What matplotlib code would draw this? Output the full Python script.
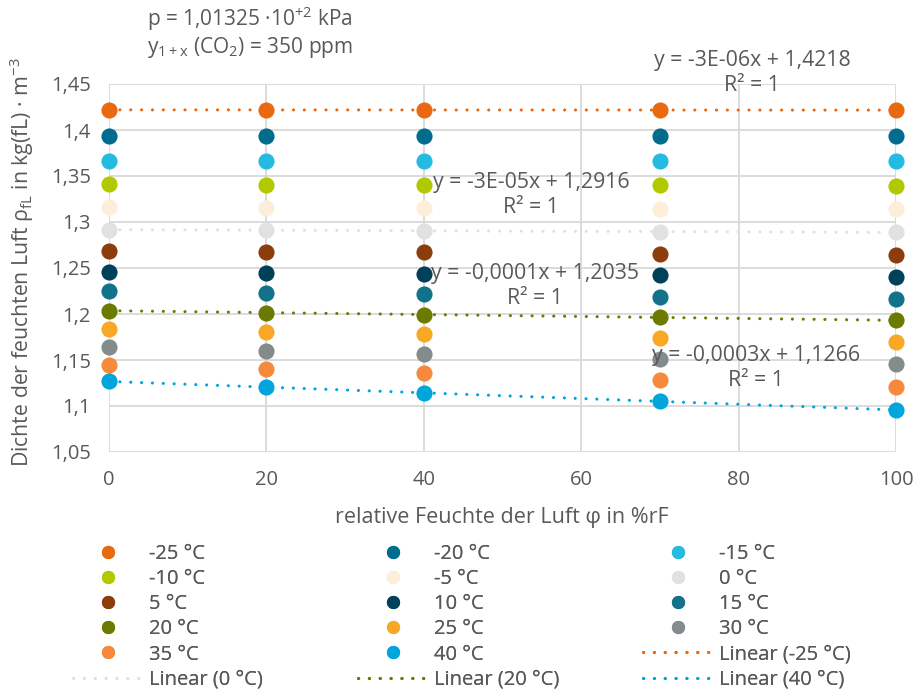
import numpy as np
import matplotlib
matplotlib.use("Agg")
import matplotlib.pyplot as plt
from matplotlib.lines import Line2D
from matplotlib.ticker import FixedLocator, FuncFormatter

plt.rcParams["font.family"] = ["Open Sans", "DejaVu Sans"]
plt.rcParams["mathtext.fontset"] = "custom"
plt.rcParams["mathtext.rm"] = "Open Sans"
plt.rcParams["mathtext.it"] = "Open Sans:italic"

# relative humidity (%rF)
humidity = [0, 20, 40, 70, 100]

# air temperature series
temperatures = ["-25 °C", "-20 °C", "-15 °C", "-10 °C", "-5 °C", "0 °C", "5 °C",
                "10 °C", "15 °C", "20 °C", "25 °C", "30 °C", "35 °C", "40 °C"]

# density of humid air in kg(fL)/m³, one row per temperature
rho_m25 = [1.4219, 1.4218, 1.4218, 1.4217, 1.4216]
rho_m20 = [1.3938, 1.3937, 1.3936, 1.3935, 1.3933]
rho_m15 = [1.3668, 1.3666, 1.3665, 1.3662, 1.3660]
rho_m10 = [1.3408, 1.3405, 1.3403, 1.3399, 1.3395]
rho_m5 = [1.3158, 1.3154, 1.3150, 1.3144, 1.3138]
rho_0 = [1.2917, 1.2911, 1.2905, 1.2896, 1.2887]
rho_5 = [1.2685, 1.2677, 1.2669, 1.2656, 1.2644]
rho_10 = [1.2461, 1.2450, 1.2438, 1.2421, 1.2404]
rho_15 = [1.2245, 1.2229, 1.2214, 1.2190, 1.2167]
rho_20 = [1.2036, 1.2015, 1.1994, 1.1963, 1.1931]
rho_25 = [1.1834, 1.1806, 1.1778, 1.1736, 1.1694]
rho_30 = [1.1639, 1.1602, 1.1565, 1.1510, 1.1455]
rho_35 = [1.1450, 1.1402, 1.1354, 1.1282, 1.1210]
rho_40 = [1.1267, 1.1205, 1.1143, 1.1050, 1.0957]

series = [rho_m25, rho_m20, rho_m15, rho_m10, rho_m5, rho_0, rho_5,
          rho_10, rho_15, rho_20, rho_25, rho_30, rho_35, rho_40]

colors = ["#E8690F", "#006D8F", "#25BAE2", "#B2C800", "#FDEEDA", "#E0E1E0", "#8B3E0B",
          "#00415A", "#127289", "#6B7A00", "#F9A825", "#848B8C", "#F58A3D", "#00A5DC"]

# series that get a linear trendline, with their equation labels
trend_idx = [0, 5, 9, 13]
trend_labels = ["y = -3E-06x + 1,4218\nR² = 1",
                "y = -3E-05x + 1,2916\nR² = 1",
                "y = -0,0001x + 1,2035\nR² = 1",
                "y = -0,0003x + 1,1266\nR² = 1"]
# label centres in figure pixels (from top)
trend_label_pos = [(752, 73), (531, 195), (535, 286), (756, 368)]

y_ticks = [1.05, 1.1, 1.15, 1.2, 1.25, 1.3, 1.35, 1.4, 1.45]
x_ticks = [0, 20, 40, 60, 80, 100]

TEXT = "#595959"
GRID = "#D9D9D9"
FS = 14.5

W, H = 915, 689
fig = plt.figure(figsize=(W / 100, H / 100), dpi=100)


def fp(x, y):
    """figure-pixel position measured from the top-left -> figure fraction"""
    return x / W, 1 - y / H


ax = fig.add_axes([109 / W, 1 - 452 / H, 787 / W, 368 / H])
ax.set_xlim(0, 100)
ax.set_ylim(1.05, 1.45)
ax.xaxis.set_major_locator(FixedLocator(x_ticks))
ax.yaxis.set_major_locator(FixedLocator(y_ticks))
ax.yaxis.set_major_formatter(FuncFormatter(
    lambda v, _: f"{v:.2f}".rstrip("0").rstrip(".").replace(".", ",")))
ax.xaxis.set_major_formatter(FuncFormatter(lambda v, _: f"{v:.0f}"))
ax.grid(True, color=GRID, linewidth=1.3)
ax.set_axisbelow(True)
for s in ax.spines.values():
    s.set_visible(False)
ax.tick_params(length=0, labelsize=FS, labelcolor=TEXT, pad=13)
for lab in ax.get_xticklabels() + ax.get_yticklabels():
    lab.set_clip_on(False)

x = np.array(humidity, dtype=float)
handles = []
for vals, col, name in zip(series, colors, temperatures):
    ax.scatter(x, vals, s=135, color=col, zorder=3, clip_on=False, linewidths=0)
    handles.append(Line2D([], [], linestyle="none", marker="o", markersize=9.5,
                          markerfacecolor=col, markeredgewidth=0, label=name))

xf = np.linspace(0, 100, 2)
for i in trend_idx:
    k, d = np.polyfit(x, series[i], 1)
    ax.plot(xf, k * xf + d, color=colors[i], linewidth=2.2,
            linestyle=(0, (0.05, 3.5)), dash_capstyle="round",
            zorder=4, clip_on=False)
    handles.append(Line2D([], [], color=colors[i], linewidth=2.2,
                          linestyle=(0, (0.05, 3.5)), dash_capstyle="round",
                          label=f"Linear ({temperatures[i]})"))

for lab, (px, py) in zip(trend_labels, trend_label_pos):
    fig.text(*fp(px, py), lab, ha="center", va="center", fontsize=15.3,
             color=TEXT, linespacing=1.22, zorder=5)

# header text
fig.text(*fp(147, 19), r"p = 1,01325 ·10$^{\mathregular{+2}}$ kPa",
         ha="left", va="center", fontsize=15, color=TEXT)
fig.text(*fp(147, 47), r"y$_{\mathregular{1+x}}$ (CO$_{\mathregular{2}}$) = 350 ppm",
         ha="left", va="center", fontsize=15, color=TEXT)

# axis titles
fig.text(*fp(22, 262),
         r"Dichte der feuchten Luft ρ$_{\mathregular{fL}}$ in kg(fL) · m$^{\mathregular{-3}}$",
         rotation=90, ha="center", va="center", fontsize=15.3, color=TEXT)
fig.text(*fp(502, 518), "relative Feuchte der Luft φ in %rF",
         ha="center", va="center", fontsize=15.5, color=TEXT)

# legend: row-major order laid out as three columns
order = list(range(18))
cols = [[handles[j] for j in order[c::3]] for c in range(3)]
fs_px = FS * 100 / 72
col_x = [73, 358, 643]
for c in range(3):
    leg = fig.legend(handles=cols[c], loc="upper left",
                     bbox_to_anchor=fp(col_x[c], 544), frameon=False,
                     fontsize=FS, labelcolor=TEXT, borderpad=0, borderaxespad=0,
                     handlelength=70 / fs_px, handletextpad=0.3,
                     labelspacing=0.255)
    fig.add_artist(leg)

fig.savefig("out.png", dpi=100)
